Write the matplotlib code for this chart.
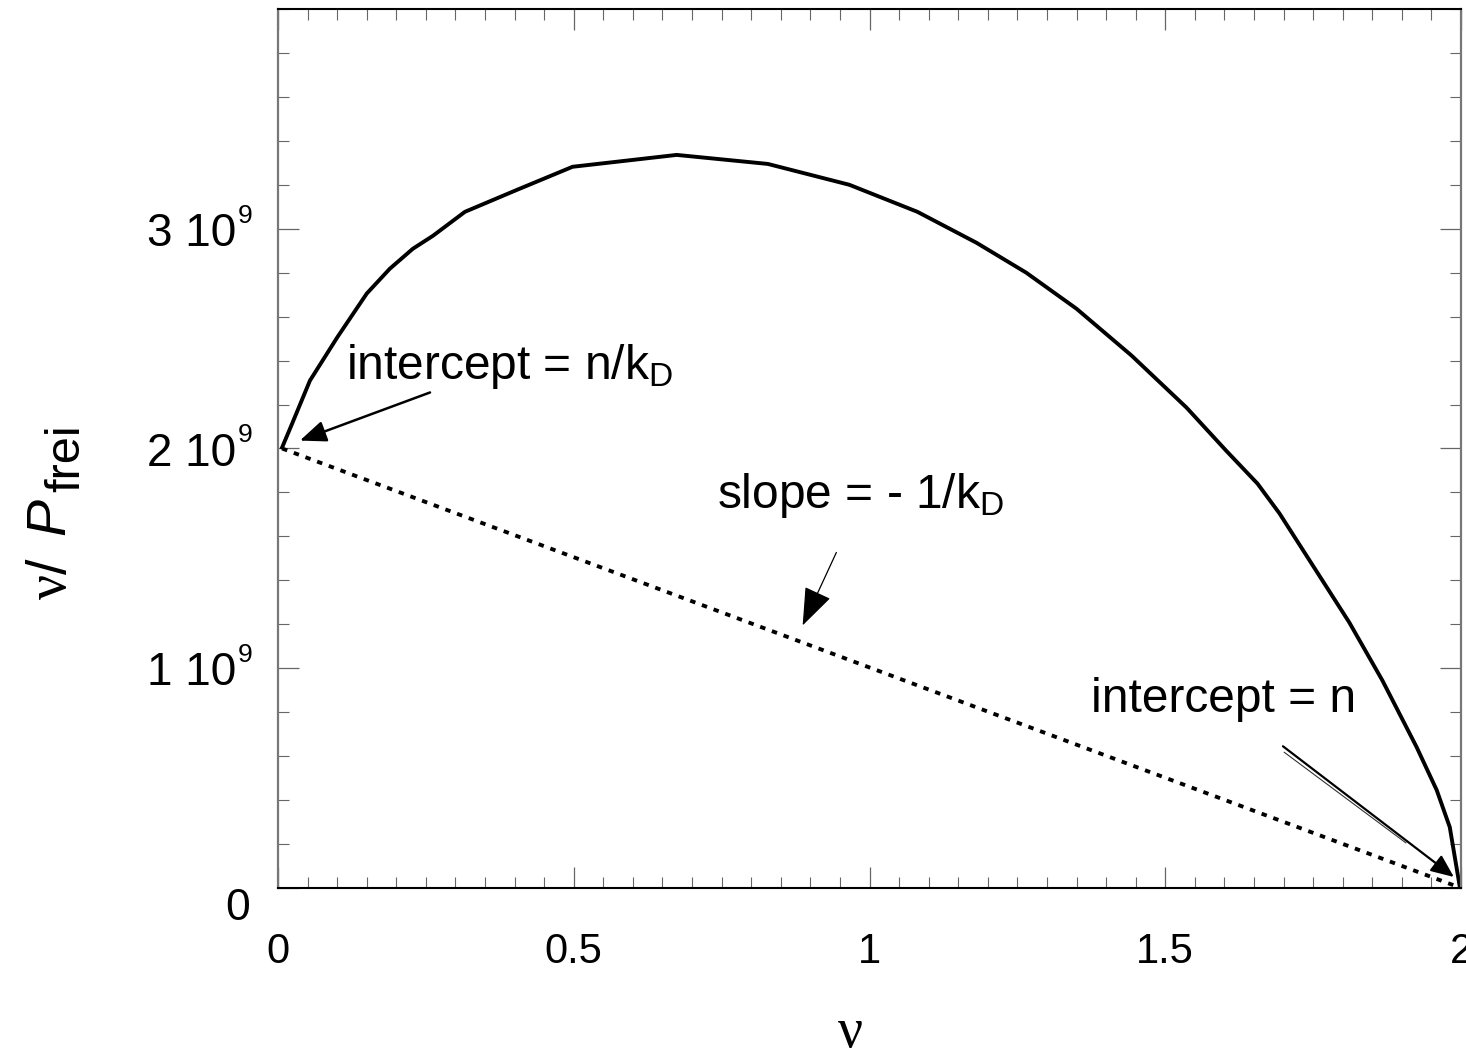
import matplotlib
matplotlib.use("Agg")
import matplotlib.pyplot as plt
import matplotlib.transforms as mtransforms
from matplotlib.ticker import MultipleLocator, FixedLocator, FixedFormatter
from matplotlib.patches import ArrowStyle

plt.rcParams['font.family'] = ['Liberation Sans', 'DejaVu Sans']
plt.rcParams['mathtext.fontset'] = 'custom'
plt.rcParams['mathtext.rm'] = 'Liberation Serif'
plt.rcParams['mathtext.it'] = 'Liberation Sans:italic'
plt.rcParams['mathtext.sf'] = 'Liberation Sans'

# Scatchard curve (nu vs nu/P_frei)
nu = [0.007, 0.024, 0.054, 0.100, 0.150, 0.189, 0.228, 0.262, 0.316, 0.404,
      0.498, 0.674, 0.828, 0.966, 1.081, 1.181, 1.265, 1.350, 1.443, 1.536,
      1.603, 1.656, 1.693, 1.811, 1.867, 1.925, 1.959, 1.981, 1.998]
ratio = [2.005e9, 2.114e9, 2.309e9, 2.505e9, 2.705e9, 2.818e9, 2.909e9, 2.968e9,
         3.077e9, 3.177e9, 3.282e9, 3.336e9, 3.295e9, 3.200e9, 3.077e9, 2.936e9,
         2.800e9, 2.636e9, 2.423e9, 2.186e9, 1.990e9, 1.840e9, 1.705e9, 1.209e9,
         0.945e9, 0.641e9, 0.445e9, 0.277e9, 0.005e9]

# Straight reference line (slope = -1/kD)
line_nu = [0.007, 2.0]
line_ratio = [2.0e9, 0.0]

xticks = [0, 0.5, 1, 1.5, 2]
xticklabels = ['0', '0.5', '1', '1.5', '2']
yticks = [0, 1e9, 2e9, 3e9]
yticklabels = ['0', '1 10', '2 10', '3 10']
ytick_exponents = ['', '9', '9', '9']

fig = plt.figure(figsize=(14.66, 10.56), dpi=100)
ax = fig.add_axes([278/1466, (1056-888)/1056, (1461-278)/1466, (888-9)/1056])

ax.plot(nu, ratio, color='black', lw=2.8, solid_joinstyle='miter')
ax.plot(line_nu, line_ratio, color='black', lw=2.8, linestyle=(0, (1.4, 1.8)))

ax.set_xlim(0, 2)
ax.set_ylim(0, 4e9)

ax.xaxis.set_major_locator(FixedLocator(xticks))
ax.xaxis.set_major_formatter(FixedFormatter(xticklabels))
ax.xaxis.set_minor_locator(MultipleLocator(0.05))
ax.yaxis.set_major_locator(FixedLocator(yticks))
ax.yaxis.set_major_formatter(FixedFormatter(yticklabels))
ax.yaxis.set_minor_locator(MultipleLocator(0.2e9))

ax.tick_params(which='both', direction='in', top=True, right=True, color='#666666')
ax.tick_params(which='major', length=15, width=0.9)
ax.tick_params(which='minor', length=8, width=0.8)
ax.tick_params(axis='x', which='major', pad=32, labelsize=30)
ax.tick_params(axis='y', which='major', pad=30, labelsize=33)

ticks = ax.yaxis.get_major_ticks()
t0 = ticks[0].label1
t0.set_va('top')
t0.set_fontsize(32)
t0.set_transform(t0.get_transform() +
                 mtransforms.ScaledTranslation(14/100, 0, fig.dpi_scale_trans))

# exponents of the y tick labels
for yv, ex in zip(yticks, ytick_exponents):
    if ex:
        tr = (mtransforms.blended_transform_factory(ax.transAxes, ax.transData) +
              mtransforms.ScaledTranslation(-40/100, 6/100, fig.dpi_scale_trans))
        ax.text(0, yv, ex, transform=tr, fontsize=19, ha='left', va='baseline',
                clip_on=False)

for s in ['bottom', 'top']:
    ax.spines[s].set_color('black')
    ax.spines[s].set_linewidth(1.5)
for s in ['left', 'right']:
    ax.spines[s].set_color('#777777')
    ax.spines[s].set_linewidth(1.6)

ax.set_xlabel(r'$\mathrm{\nu}$', fontsize=40)
ax.xaxis.set_label_coords(0.483, -0.135)

# y label: "ν/ P" + subscript "frei"
ax.set_ylabel(r'$\mathrm{\nu}\mathsf{/}\ \,P$', fontsize=40, ha='left', va='baseline',
              rotation_mode='anchor')
ax.yaxis.set_label_coords((66-278)/1183, (888-600)/879)
fig.text(79/1466, (1056-492)/1056, 'frei', fontsize=35, rotation=90,
         rotation_mode='anchor', ha='left', va='baseline')

# annotations
fs = 34.5
ax.text(0.115, 2.318e9, r'intercept = n/k$_{\mathsf{D}}$', fontsize=fs, ha='left', va='baseline')
ax.text(0.742, 1.727e9, r'slope = - 1/k$_{\mathsf{D}}$', fontsize=fs, ha='left', va='baseline')
ax.text(1.375, 0.80e9, 'intercept = n', fontsize=fs, ha='left', va='baseline')

ax.annotate('', xy=(0.037, 2.036e9), xytext=(0.257, 2.255e9),
            arrowprops=dict(arrowstyle=ArrowStyle('-|>', head_length=1.6, head_width=0.65),
                            mutation_scale=10, lw=1.8, color='black', shrinkA=0, shrinkB=0))
ax.annotate('', xy=(0.887, 1.195e9), xytext=(0.944, 1.527e9),
            arrowprops=dict(arrowstyle=ArrowStyle('-|>', head_length=2.4, head_width=0.9),
                            mutation_scale=10, lw=0.9, color='black', shrinkA=0, shrinkB=0))
ax.annotate('', xy=(1.988, 0.05e9), xytext=(1.699, 0.645e9),
            arrowprops=dict(arrowstyle=ArrowStyle('-|>', head_length=1.4, head_width=0.6),
                            mutation_scale=10, lw=1.6, color='black', shrinkA=0, shrinkB=0))
ax.annotate('', xy=(1.907, 0.205e9), xytext=(1.701, 0.618e9),
            arrowprops=dict(arrowstyle='-', lw=0.8, color='#333333', shrinkA=0, shrinkB=0))

fig.savefig('out.png', dpi=100)
